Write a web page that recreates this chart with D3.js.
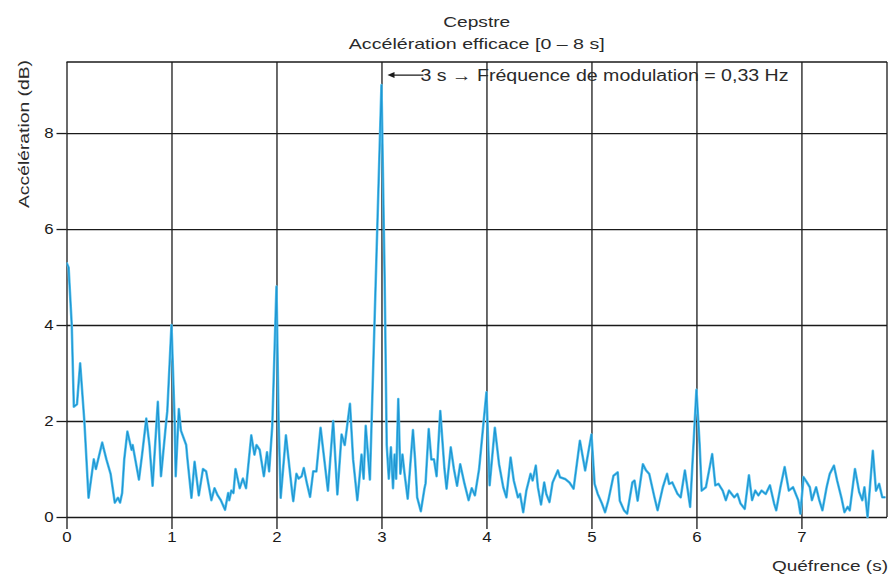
<!DOCTYPE html>
<html><head><meta charset="utf-8">
<script src="https://cdn.jsdelivr.net/npm/d3@7"></script>
<style>
html,body{margin:0;padding:0;background:#fff;}
svg{display:block;font-family:"Liberation Sans",Arial,sans-serif;}
</style></head>
<body><svg id="chart" width="891" height="578"></svg>
<script>
// Data
const quefrency = [0.00,0.02,0.05,0.07,0.10,0.13,0.17,0.21,0.26,0.28,0.34,0.38,0.42,0.46,0.49,0.51,0.53,0.55,0.58,0.62,0.63,0.69,0.72,0.76,0.79,0.82,0.87,0.90,0.95,0.96,
1.00,1.03,1.04,1.07,1.09,1.14,1.15,1.19,1.22,1.26,1.30,1.33,1.38,1.41,1.44,1.47,1.51,1.54,1.55,1.57,1.59,1.61,1.65,1.68,1.71,1.76,1.79,1.81,1.84,1.88,1.91,1.93,1.96,
2.00,2.02,2.04,2.09,2.11,2.15,2.16,2.19,2.21,2.24,2.26,2.29,2.32,2.35,2.38,2.42,2.45,2.49,2.54,2.58,2.62,2.65,2.70,2.73,2.77,2.79,2.81,2.83,2.85,2.89,
3.00,3.03,3.05,3.07,3.09,3.11,3.125,3.14,3.16,3.18,3.20,3.22,3.25,3.30,3.32,3.34,3.375,3.41,3.42,3.45,3.475,3.50,3.525,3.56,3.60,3.62,3.66,3.69,3.72,3.75,3.79,3.83,3.86,3.89,3.93,
4.00,4.03,4.08,4.12,4.16,4.19,4.23,4.26,4.30,4.32,4.35,4.38,4.42,4.44,4.47,4.49,4.52,4.55,4.57,4.60,4.63,4.68,4.70,4.75,4.79,4.83,4.89,4.94,
5.00,5.03,5.06,5.10,5.13,5.16,5.21,5.25,5.27,5.31,5.34,5.39,5.41,5.44,5.49,5.52,5.55,5.60,5.63,5.68,5.72,5.74,5.77,5.82,5.85,5.89,5.94,
6.00,6.03,6.05,6.09,6.15,6.18,6.21,6.25,6.28,6.31,6.36,6.39,6.42,6.46,6.50,6.53,6.56,6.59,6.62,6.66,6.70,6.74,6.76,6.80,6.84,6.88,6.92,6.97,6.99,
7.02,7.05,7.08,7.10,7.14,7.17,7.20,7.24,7.27,7.31,7.34,7.38,7.41,7.44,7.46,7.51,7.55,7.58,7.60,7.63,7.68,7.71,7.74,7.77,7.80];
const acceleration = [5.3,5.2,4.0,2.3,2.35,3.2,2.0,0.4,1.2,1.0,1.55,1.2,0.9,0.3,0.4,0.3,0.5,1.2,1.78,1.4,1.5,0.78,1.3,2.05,1.5,0.65,2.4,0.85,2.0,2.2,
4.0,2.0,0.85,2.25,1.8,1.5,1.25,0.4,1.15,0.45,1.0,0.95,0.35,0.6,0.45,0.35,0.15,0.5,0.35,0.55,0.5,1.0,0.6,0.8,0.6,1.7,1.3,1.5,1.4,0.85,1.35,0.95,1.9,
4.8,2.0,0.4,1.7,1.3,0.5,0.33,0.9,0.8,0.85,1.02,0.7,0.42,0.95,0.95,1.86,1.3,0.55,2.0,0.47,1.72,1.5,2.36,1.2,0.35,0.8,1.3,0.8,1.9,0.78,
9.0,5.0,1.5,0.8,1.45,0.6,1.3,0.8,2.46,0.9,1.3,0.9,0.38,1.81,1.2,0.41,0.12,0.6,0.7,1.83,1.2,1.2,0.85,2.21,1.0,0.59,1.45,1.0,0.65,1.1,0.7,0.35,0.6,0.45,1.0,
2.6,0.66,1.86,1.1,0.62,0.41,1.24,0.76,0.41,0.48,0.1,0.55,0.9,0.76,1.07,0.62,0.26,0.72,0.48,0.31,0.72,0.97,0.83,0.79,0.72,0.59,1.59,0.97,
1.72,0.69,0.48,0.28,0.1,0.34,0.86,0.93,0.34,0.14,0.07,0.72,0.76,0.34,1.1,0.97,0.9,0.41,0.14,0.62,0.9,0.69,0.72,0.48,0.41,0.97,0.21,
2.65,1.52,0.55,0.62,1.31,0.66,0.69,0.55,0.35,0.55,0.41,0.48,0.28,0.17,0.87,0.35,0.55,0.45,0.55,0.48,0.66,0.28,0.14,0.62,1.04,0.55,0.62,0.35,0.07,
0.83,0.73,0.62,0.35,0.62,0.35,0.14,0.62,0.9,1.07,0.76,0.41,0.1,0.21,0.14,1.0,0.52,0.35,0.62,0.0,1.38,0.55,0.69,0.41,0.41];
const xTicks = [0,1,2,3,4,5,6,7];
const yTicks = [0,2,4,6,8];
const titleLines = ["Cepstre","Accélération efficace [0 – 8 s]"];
const xLabel = "Quéfrence (s)";
const yLabel = "Accélération (dB)";
const annotationText = "3 s → Fréquence de modulation = 0,33 Hz";
const annotationAt = [3, 9.0];

const svg = d3.select("#chart");
const L = 66.5, R = 887, T = 62, B = 517;
const x = d3.scaleLinear().domain([0, 7.815]).range([L, R]);
const y = d3.scaleLinear().domain([0, 9.48]).range([B, T]);
const ink = "#1a1a1a";

function stretch(sel, target){
  sel.each(function(){
    const len = this.getComputedTextLength();
    const w = typeof target === "function" ? target(len) : target;
    this.setAttribute("textLength", w);
    this.setAttribute("lengthAdjust", "spacingAndGlyphs");
  });
}

// grid
const gx = svg.append("g").attr("transform", `translate(0,${B})`)
  .call(d3.axisBottom(x).tickValues(xTicks).tickSize(-(B - T)).tickFormat(""));
gx.select(".domain").remove();
gx.selectAll("line").attr("stroke", ink).attr("stroke-width", 1.3);
const gy = svg.append("g").attr("transform", `translate(${L},0)`)
  .call(d3.axisLeft(y).tickValues(yTicks).tickSize(-(R - L)).tickFormat(""));
gy.select(".domain").remove();
gy.selectAll("line").attr("stroke", ink).attr("stroke-width", 1.3);

// frame top and right
svg.append("line").attr("x1", L).attr("x2", R).attr("y1", T).attr("y2", T).attr("stroke", ink).attr("stroke-width", 1.3);
svg.append("line").attr("x1", R).attr("x2", R).attr("y1", T).attr("y2", B).attr("stroke", ink).attr("stroke-width", 1.3);

// axes ticks + labels
const ax = svg.append("g").attr("transform", `translate(0,${B})`)
  .call(d3.axisBottom(x).tickValues(xTicks).tickSize(12).tickPadding(3).tickFormat(d3.format("d")));
ax.select(".domain").remove();
ax.selectAll("line").attr("stroke", ink).attr("stroke-width", 1.3);
ax.selectAll("text").attr("font-size", 14).attr("fill", ink).attr("font-family", "Liberation Sans, Arial, sans-serif");
stretch(ax.selectAll("text"), l => l * 1.2);

const ay = svg.append("g").attr("transform", `translate(${L},0)`)
  .call(d3.axisLeft(y).tickValues(yTicks).tickSize(10).tickPadding(3).tickFormat(d3.format("d")));
ay.select(".domain").remove();
ay.selectAll("line").attr("stroke", ink).attr("stroke-width", 1.3);
ay.selectAll("text").attr("font-size", 14).attr("fill", ink).attr("font-family", "Liberation Sans, Arial, sans-serif");
stretch(ay.selectAll("text"), l => l * 1.2);

// clip + line
svg.append("clipPath").attr("id", "clip").append("rect")
  .attr("x", L).attr("y", T).attr("width", R - L).attr("height", B - T + 2);
const pts = quefrency.map((q, i) => [q, acceleration[i]]);
const line = d3.line().x(d => x(d[0])).y(d => y(d[1]));
svg.append("path").datum(pts).attr("clip-path", "url(#clip)")
  .attr("fill", "none").attr("stroke", "#5cc3ee").attr("stroke-width", 2.6)
  .attr("stroke-linejoin", "round").attr("d", line);
svg.append("path").datum(pts).attr("clip-path", "url(#clip)")
  .attr("fill", "none").attr("stroke", "#1e96d2").attr("stroke-width", 1.2)
  .attr("stroke-linejoin", "round").attr("d", line);

// titles
const cx = (L + R) / 2;
const t1 = svg.append("text").attr("x", cx).attr("y", 27).attr("text-anchor", "middle")
  .attr("font-size", 15).attr("fill", "#2a2a2a").text(titleLines[0]);
stretch(t1, 67);
const t2 = svg.append("text").attr("x", cx).attr("y", 49).attr("text-anchor", "middle")
  .attr("font-size", 15).attr("fill", "#2a2a2a").text(titleLines[1]);
stretch(t2, 256);

// axis labels
const xl = svg.append("text").attr("x", 888).attr("y", 571).attr("text-anchor", "end")
  .attr("font-size", 15).attr("fill", "#2a2a2a").text(xLabel);
stretch(xl, 116);
const yl = svg.append("text").attr("transform", "translate(29,60) rotate(-90)").attr("text-anchor", "end")
  .attr("font-size", 15).attr("fill", "#2a2a2a").text(yLabel);
stretch(yl, 148);

// annotation
const ax0 = x(annotationAt[0]) + 6, ay0 = y(annotationAt[1]) - 10;
svg.append("line").attr("x1", ax0 + 4).attr("x2", ax0 + 36).attr("y1", ay0).attr("y2", ay0)
  .attr("stroke", ink).attr("stroke-width", 1.2);
svg.append("path").attr("d", `M${ax0},${ay0} l7,-3 l0,6 z`).attr("fill", ink);
const at = svg.append("text").attr("x", ax0 + 33).attr("y", ay0 + 5.5)
  .attr("font-size", 16).attr("fill", "#2a2a2a").text(annotationText);
stretch(at, 368);
</script></body></html>
